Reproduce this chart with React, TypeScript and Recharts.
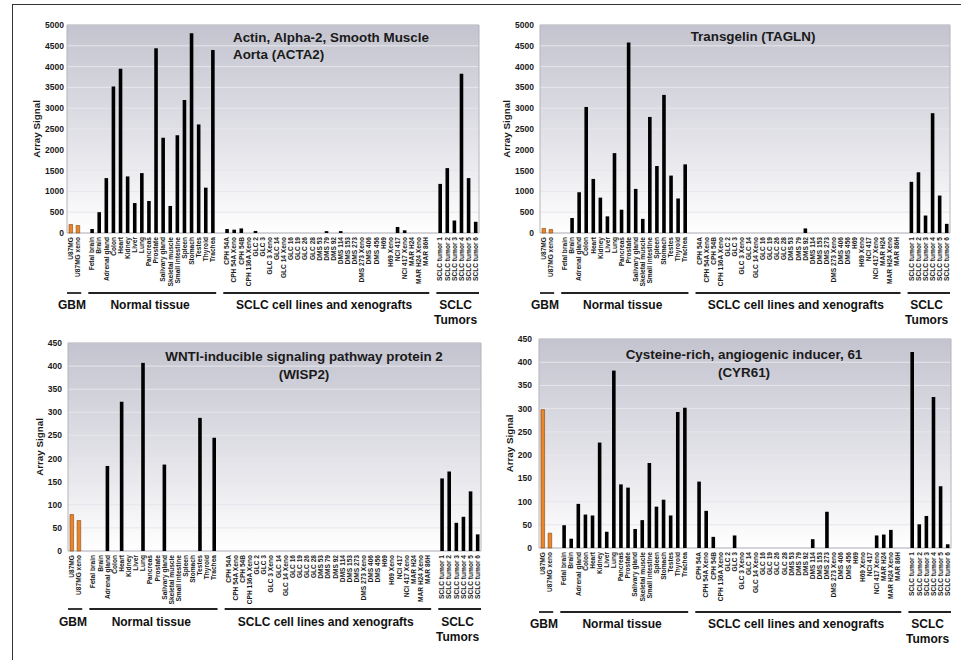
import React from 'react';
import { BarChart, Bar, XAxis, YAxis, CartesianGrid, Cell } from 'recharts';

// ---------- categories ----------
const gbmCategories = ['U87MG', 'U87MG xeno'];
const normalCategories = [
  'Fetal brain', 'Brain', 'Adrenal gland', 'Colon', 'Heart', 'Kidney', 'Liver', 'Lung', 'Pancreas',
  'Prostate', 'Salivary gland', 'Skeletal muscle', 'Small intestine', 'Spleen', 'Stomach', 'Testes',
  'Thyroid', 'Trachea',
];
const sclcCategories = [
  'CPH 54A', 'CPH 54A Xeno', 'CPH 54B', 'CPH 136A Xeno', 'GLC 2', 'GLC 3', 'GLC 3 Xeno', 'GLC 14',
  'GLC 14 Xeno', 'GLC 16', 'GLC 19', 'GLC 26', 'GLC 28', 'DMS 53', 'DMS 79', 'DMS 92', 'DMS 114',
  'DMS 153', 'DMS 273', 'DMS 273 Xeno', 'DMS 406', 'DMS 456', 'H69', 'H69 Xeno', 'NCI 417',
  'NCI 417 Xeno', 'MAR H24', 'MAR H24 Xeno', 'MAR 86H',
];
const tumorCategories = ['SCLC tumor 1', 'SCLC tumor 2', 'SCLC tumor 3', 'SCLC tumor 4', 'SCLC tumor 5', 'SCLC tumor 6'];
const groupLabels = [['GBM'], ['Normal tissue'], ['SCLC cell lines and xenografts'], ['SCLC', 'Tumors']];

// ---------- ticks ----------
const ticksLarge = [0, 500, 1000, 1500, 2000, 2500, 3000, 3500, 4000, 4500, 5000];
const ticksSmall = [0, 50, 100, 150, 200, 250, 300, 350, 400, 450];

// ---------- ACTA2 ----------
const acta2Gbm = [205, 180];
const acta2Normal = [95, 500, 1320, 3520, 3950, 1360, 720, 1440, 770, 4440, 2290, 650, 2350, 3200, 4800, 2610, 1090, 4400];
const acta2Sclc = [95, 80, 110, 0, 50, 0, 0, 0, 0, 0, 0, 0, 0, 0, 45, 0, 45, 0, 0, 0, 0, 0, 0, 0, 145, 65, 0, 0, 0];
const acta2Tumor = [1180, 1560, 300, 3830, 1320, 270];

// ---------- TAGLN ----------
const taglnGbm = [110, 85];
const taglnNormal = [0, 360, 980, 3030, 1300, 850, 400, 1920, 560, 4580, 1060, 340, 2790, 1610, 3320, 1380, 830, 1650];
const taglnSclc = [0, 0, 0, 0, 0, 0, 0, 0, 0, 0, 0, 0, 0, 0, 0, 110, 0, 0, 0, 0, 0, 0, 0, 0, 0, 0, 0, 0, 0];
const taglnTumor = [1230, 1460, 420, 2880, 900, 220];

// ---------- WISP2 ----------
const wisp2Gbm = [79, 66];
const wisp2Normal = [0, 0, 184, 0, 323, 0, 0, 407, 0, 0, 187, 0, 0, 0, 0, 288, 0, 245];
const wisp2Sclc = [0, 0, 0, 0, 0, 0, 0, 0, 0, 0, 0, 0, 0, 0, 0, 0, 0, 0, 0, 0, 0, 0, 0, 0, 0, 0, 0, 0, 0];
const wisp2Tumor = [157, 172, 61, 74, 129, 36];

// ---------- CYR61 ----------
const cyr61Gbm = [298, 32];
const cyr61Normal = [49, 20, 95, 72, 70, 227, 35, 382, 137, 130, 41, 60, 183, 89, 104, 70, 293, 302];
const cyr61Sclc = [143, 80, 24, 0, 0, 27, 0, 0, 0, 0, 0, 0, 0, 0, 0, 0, 19, 0, 78, 0, 0, 0, 0, 0, 0, 27, 29, 39, 0];
const cyr61Tumor = [422, 51, 69, 325, 133, 8];

const FONT = '"Liberation Sans", Arial, Helvetica, sans-serif';
const ORANGE = '#e8862a';

type Row = { key: string; label: string; group: number; idx: number; size: number; value: number | null };

function buildRows(values: number[][]): Row[] {
  const cats = [gbmCategories, normalCategories, sclcCategories, tumorCategories];
  const rows: Row[] = [];
  cats.forEach((cat, g) => {
    if (g > 0) rows.push({ key: `__gap${g}`, label: '', group: -1, idx: 0, size: 0, value: null });
    cat.forEach((name, i) => {
      rows.push({ key: name, label: name, group: g, idx: i, size: cat.length, value: values[g][i] });
    });
  });
  return rows;
}

type PanelCfg = {
  id: string;
  left: number;
  top: number;
  clipW: number;
  chartW: number;
  chartH: number;
  yAxisW: number;
  marginTop: number;
  marginRight: number;
  plotH: number;
  yMax: number;
  ticks: number[];
  tickMargin: number;
  yLabelX: number;
  lineDy: number;
  labelDy: number;
  values: number[][];
  title: string[];
  titleAlign: 'left' | 'center';
  titleX: number;
  titleTop: number;
  titleLH: number;
};

const panels: PanelCfg[] = [
  {
    id: 'acta2', left: 0, top: 0, clipW: 484, chartW: 490, chartH: 330, yAxisW: 67, marginTop: 25, marginRight: 11,
    plotH: 208, yMax: 5000, ticks: ticksLarge, tickMargin: 3, yLabelX: 37, lineDy: 60, labelDy: 72,
    values: [acta2Gbm, acta2Normal, acta2Sclc, acta2Tumor],
    title: ['Actin, Alpha-2, Smooth Muscle', 'Aorta (ACTA2)'], titleAlign: 'left', titleX: 233, titleTop: 29, titleLH: 17,
  },
  {
    id: 'tagln', left: 484, top: 0, clipW: 477, chartW: 477, chartH: 330, yAxisW: 56, marginTop: 25, marginRight: 11,
    plotH: 208, yMax: 5000, ticks: ticksLarge, tickMargin: 6, yLabelX: 23, lineDy: 60, labelDy: 72,
    values: [taglnGbm, taglnNormal, taglnSclc, taglnTumor],
    title: ['Transgelin (TAGLN)'], titleAlign: 'center', titleX: 753, titleTop: 28, titleLH: 18,
  },
  {
    id: 'wisp2', left: 0, top: 330, clipW: 484, chartW: 491, chartH: 330, yAxisW: 68, marginTop: 13, marginRight: 10,
    plotH: 208, yMax: 450, ticks: ticksSmall, tickMargin: 6, yLabelX: 40, lineDy: 58, labelDy: 71,
    values: [wisp2Gbm, wisp2Normal, wisp2Sclc, wisp2Tumor],
    title: ['WNTI-inducible signaling pathway protein 2', '(WISP2)'], titleAlign: 'center', titleX: 304, titleTop: 348, titleLH: 18,
  },
  {
    id: 'cyr61', left: 484, top: 330, clipW: 477, chartW: 477, chartH: 330, yAxisW: 55, marginTop: 9, marginRight: 10,
    plotH: 209, yMax: 450, ticks: ticksSmall, tickMargin: 7, yLabelX: 26, lineDy: 64, labelDy: 76,
    values: [cyr61Gbm, cyr61Normal, cyr61Sclc, cyr61Tumor],
    title: ['Cysteine-rich, angiogenic inducer, 61', '(CYR61)'], titleAlign: 'center', titleX: 744, titleTop: 346, titleLH: 18,
  },
];

function Panel({ cfg }: { cfg: PanelCfg }) {
  const rows = buildRows(cfg.values);
  const byKey = new Map<string, Row>();
  rows.forEach((r) => byKey.set(r.key, r));
  const plotW = cfg.chartW - cfg.yAxisW - cfg.marginRight;
  const band = plotW / rows.length;
  const xAxisH = cfg.chartH - cfg.marginTop - cfg.plotH;
  const gradId = `bg-${cfg.id}`;

  const renderTick = (props: any) => {
    const { x, y, payload } = props;
    const row = byKey.get(payload && payload.value);
    if (!row || row.group < 0) return <g />;
    const ty = y + 4;
    const labelLines = groupLabels[row.group];
    const gx1 = x - band * 0.5;
    const gx2 = x + (row.size - 1) * band + band * 0.5;
    const gc = (gx1 + gx2) / 2 - band * 0.3;
    return (
      <g>
        <text
          x={x}
          y={ty}
          transform={`rotate(-90 ${x} ${ty})`}
          textAnchor="end"
          dominantBaseline="central"
          fontSize={6.6}
          fontWeight="bold"
          fontFamily={FONT}
          fill="#1a1a1a"
        >
          {row.label}
        </text>
        {row.idx === 0 && (
          <g>
            <line x1={gx1} x2={gx2} y1={y + cfg.lineDy} y2={y + cfg.lineDy} stroke="#222" strokeWidth={1.8} />
            <text
              x={gc}
              y={y + cfg.labelDy}
              textAnchor="middle"
              dominantBaseline="central"
              fontSize={12}
              fontWeight="bold"
              fontFamily={FONT}
              fill="#111"
            >
              {labelLines.map((l, i) => (
                <tspan key={l} x={gc} dy={i === 0 ? 0 : 14.5}>
                  {l}
                </tspan>
              ))}
            </text>
          </g>
        )}
      </g>
    );
  };

  return (
    <div
      style={{
        position: 'absolute',
        left: cfg.left,
        top: cfg.top,
        width: cfg.clipW,
        height: cfg.chartH,
        overflow: 'hidden',
      }}
    >
      <BarChart
        width={cfg.chartW}
        height={cfg.chartH}
        data={rows}
        margin={{ top: cfg.marginTop, right: cfg.marginRight, left: 0, bottom: 0 }}
        barCategoryGap={0}
      >
        <defs>
          <linearGradient id={gradId} x1="0" y1="0" x2="0" y2="1">
            <stop offset="0%" stopColor="#c4c4d0" />
            <stop offset="55%" stopColor="#e2e2e8" />
            <stop offset="100%" stopColor="#ffffff" />
          </linearGradient>
        </defs>
        <CartesianGrid vertical={false} stroke="#e6e6ec" fill={`url(#${gradId})`} fillOpacity={1} />
        <CartesianGrid
          stroke="#b4b4bc"
          horizontalCoordinatesGenerator={(p: any) =>
            p && p.offset ? [p.offset.top, p.offset.top + p.offset.height] : []
          }
          verticalCoordinatesGenerator={(p: any) =>
            p && p.offset ? [p.offset.left, p.offset.left + p.offset.width] : []
          }
        />
        <XAxis
          dataKey="key"
          type="category"
          interval={0}
          height={xAxisH}
          tickLine={false}
          axisLine={false}
          tickSize={0}
          tickMargin={0}
          tick={renderTick}
        />
        <YAxis
          width={cfg.yAxisW}
          domain={[0, cfg.yMax]}
          ticks={cfg.ticks}
          interval={0}
          tickLine={false}
          axisLine={false}
          tickSize={0}
          tickMargin={cfg.tickMargin}
          tick={{ fontSize: 8.5, fontWeight: 'bold', fill: '#1a1a1a', fontFamily: FONT }}
          label={{
            value: 'Array Signal',
            angle: -90,
            position: 'insideLeft',
            offset: cfg.yLabelX,
            style: { textAnchor: 'middle', fontSize: 9.8, fontWeight: 'bold', fill: '#1a1a1a', fontFamily: FONT },
          }}
        />
        <Bar dataKey="value" barSize={3.6} isAnimationActive={false}>
          {rows.map((r) => (
            <Cell
              key={r.key}
              fill={r.group === 0 ? ORANGE : '#000000'}
              stroke={r.group === 0 ? '#8a4510' : 'none'}
              strokeWidth={r.group === 0 ? 0.6 : 0}
            />
          ))}
        </Bar>
      </BarChart>
    </div>
  );
}

function Title({ cfg }: { cfg: PanelCfg }) {
  const base: React.CSSProperties = {
    position: 'absolute',
    top: cfg.titleTop,
    fontFamily: FONT,
    fontWeight: 'bold',
    fontSize: 13.4,
    lineHeight: `${cfg.titleLH}px`,
    color: '#1a1a1a',
    whiteSpace: 'nowrap',
    pointerEvents: 'none',
  };
  const style: React.CSSProperties =
    cfg.titleAlign === 'left'
      ? { ...base, left: cfg.titleX, textAlign: 'left' }
      : { ...base, left: cfg.titleX - 200, width: 400, textAlign: 'center' };
  return (
    <div style={style}>
      {cfg.title.map((t) => (
        <div key={t}>{t}</div>
      ))}
    </div>
  );
}

export default function App() {
  return (
    <div
      style={{
        position: 'absolute',
        left: 0,
        top: 0,
        width: 961,
        height: 660,
        background: '#ffffff',
        overflow: 'hidden',
        fontFamily: FONT,
      }}
    >
      {panels.map((p) => (
        <Panel key={p.id} cfg={p} />
      ))}
      {panels.map((p) => (
        <Title key={`t-${p.id}`} cfg={p} />
      ))}
      <div style={{ position: 'absolute', left: 12, top: 3.5, width: 949, height: 1.6, background: '#333' }} />
      <div style={{ position: 'absolute', left: 11.5, top: 3.5, width: 1.6, height: 657, background: '#333' }} />
    </div>
  );
}
